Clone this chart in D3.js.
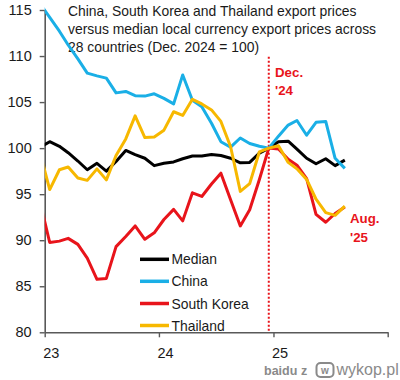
<!DOCTYPE html>
<html><head><meta charset="utf-8">
<script src="https://cdn.jsdelivr.net/npm/d3@7"></script>
<style>body{margin:0;background:#fff} svg{display:block}</style>
</head><body>
<svg id="c" width="400" height="380"></svg>
<script>
// ---- data ----
const months = ["2022-12","2023-01","2023-02","2023-03","2023-04","2023-05","2023-06","2023-07","2023-08","2023-09","2023-10","2023-11","2023-12",
  "2024-01","2024-02","2024-03","2024-04","2024-05","2024-06","2024-07","2024-08","2024-09","2024-10","2024-11","2024-12",
  "2025-01","2025-02","2025-03","2025-04","2025-05","2025-06","2025-07","2025-08"];
const median = [100.1,100.7,100.2,99.5,98.6,97.65,98.35,97.5,98.55,99.75,99.3,98.9,98.1,98.35,98.5,98.85,99.15,99.15,99.3,99.2,98.9,98.4,98.45,99.45,100,100.7,100.75,99.9,98.9,98.3,98.85,98.1,98.7];
const china = [115.7,114.2,112.7,111.2,109.7,108.15,107.85,107.6,106.0,106.15,105.7,105.65,105.9,105.4,104.8,107.95,105.2,104.5,102.7,100.7,100.1,101.1,100.5,100.2,100,101.3,102.5,103.0,101.4,102.8,102.9,98.9,97.8];
const southKorea = [94.2,89.75,89.9,90.2,89.55,88.05,85.75,85.85,89.3,90.4,91.55,90.1,90.8,92.25,93.35,92.1,95.15,94.75,96.1,97.28,94.4,91.55,93.3,96.6,100,99.9,98.8,98.15,96.7,92.8,91.95,92.9,93.6];
const thailand = [99.5,95.5,97.65,97.95,96.75,96.5,97.75,96.55,99.2,101.0,103.5,101.15,101.2,101.95,103.95,103.55,105.3,104.8,104.15,102.9,100.15,95.3,96.15,99.6,100,100.25,98.45,97.75,96.6,94.45,93.0,92.7,93.7];
const seriesNames = ["Median","China","South Korea","Thailand"];
const seriesColors = ["#000000","#1AAFE6","#E8141B","#F7B800"];
const yTicks = [80,85,90,95,100,105,110,115];
const yearTicks = ["2023","2024","2025","2026"];
const yearLabels = ["23","24","25",""];
const titleLines = ["China, South Korea and Thailand export prices",
  "versus median local currency export prices across",
  "28 countries (Dec. 2024 = 100)"];
const markMonth = "2024-12";
const markLabel = ["Dec.","'24"];
const endLabel = ["Aug.","'25"];

// ---- chart ----
const FONT = "'Liberation Sans', Arial, sans-serif";
const svg = d3.select("#c");
const L = 44.7, R = 387.7, T = 10, B = 332.3;
const x = d3.scaleTime().domain([new Date(2023,0,1), new Date(2026,0,1)]).range([L, R]);
const y = d3.scaleLinear().domain([80,115]).range([B, T]);
const parseM = d3.timeParse("%Y-%m");
const px = m => x(d3.timeDay.offset(parseM(m), 16));

svg.append("defs").append("clipPath").attr("id","clip")
  .append("rect").attr("x", L).attr("y", 0).attr("width", R - L + 5).attr("height", B + 2);

// title
const title = svg.append("text").attr("x", 68).attr("y", 15.7)
  .attr("font-family", FONT).attr("font-size", 13.9).attr("fill", "#1a1a1a");
titleLines.forEach((t,i) => title.append("tspan").attr("x", 68).attr("dy", i ? 18.3 : 0).text(t));

// axes
const yAxis = svg.append("g").attr("transform", `translate(${L},0)`)
  .call(d3.axisLeft(y).tickValues(yTicks).tickSize(5).tickPadding(8).tickSizeOuter(0));
const xAxis = svg.append("g").attr("transform", `translate(0,${B})`)
  .call(d3.axisBottom(x).tickValues(yearTicks.map(d => new Date(+d,0,1)))
    .tickFormat((d,i) => yearLabels[i]).tickSize(5).tickPadding(10).tickSizeOuter(0));
[yAxis, xAxis].forEach(g => {
  g.select(".domain").attr("stroke", "#595959").attr("stroke-width", 1.6);
  g.selectAll(".tick line").attr("stroke", "#595959").attr("stroke-width", 1.4);
  g.selectAll(".tick text").attr("font-family", FONT).attr("font-size", 14.5).attr("fill", "#1a1a1a");
});
xAxis.selectAll(".tick text").attr("text-anchor", "start").attr("x", -2);

// marker line
svg.append("line").attr("x1", px(markMonth)).attr("x2", px(markMonth))
  .attr("y1", 56.7).attr("y2", B).attr("stroke", "#E8141B")
  .attr("stroke-width", 2).attr("stroke-dasharray", "2,2");

// series
const data = [median, china, southKorea, thailand];
const line = d3.line().x((d,i) => px(months[i])).y(d => y(d));
const lines = svg.append("g").attr("clip-path", "url(#clip)");
data.forEach((s,i) => lines.append("path").attr("d", line(s)).attr("fill","none")
  .attr("stroke", seriesColors[i]).attr("stroke-width", 3).attr("stroke-linejoin","round"));

// annotations
const ann = (lbls, xx, yy) => lbls.forEach((t,i) => svg.append("text").attr("x", xx).attr("y", yy + i*18.5)
  .attr("font-family", FONT).attr("font-size", 13.3).attr("font-weight", "bold").attr("fill", "#E8141B").text(t));
ann(markLabel, 275, 76.7);
ann(endLabel, 350, 223);

// legend
const legendRows = [259.3, 281.3, 303.5, 325.5];
seriesNames.forEach((n,i) => {
  svg.append("line").attr("x1", 140).attr("x2", 169).attr("y1", legendRows[i]).attr("y2", legendRows[i])
    .attr("stroke", seriesColors[i]).attr("stroke-width", 3.5);
  svg.append("text").attr("x", 171.5).attr("y", legendRows[i]).attr("dy", "0.36em")
    .attr("font-family", FONT).attr("font-size", 13.9).attr("fill", "#1a1a1a").text(n);
});

// watermark
const wm = svg.append("g").attr("fill", "#8a8a8a").attr("font-family", FONT);
wm.append("text").attr("x", 264).attr("y", 374.5).attr("font-size", 12.5).attr("font-weight","bold").text("baidu");
wm.append("text").attr("x", 301).attr("y", 374.5).attr("font-size", 12.5).attr("font-weight","bold").text("z");
wm.append("rect").attr("x", 316.5).attr("y", 363).attr("width", 17).attr("height", 14).attr("rx", 4)
  .attr("fill", "none").attr("stroke", "#8a8a8a").attr("stroke-width", 2);
wm.append("text").attr("x", 325).attr("y", 374).attr("text-anchor","middle").attr("font-size", 10).attr("font-weight","bold").text("w");
wm.append("text").attr("x", 336.5).attr("y", 374.5).attr("font-size", 16).text("wykop.pl");
</script>
</body></html>
